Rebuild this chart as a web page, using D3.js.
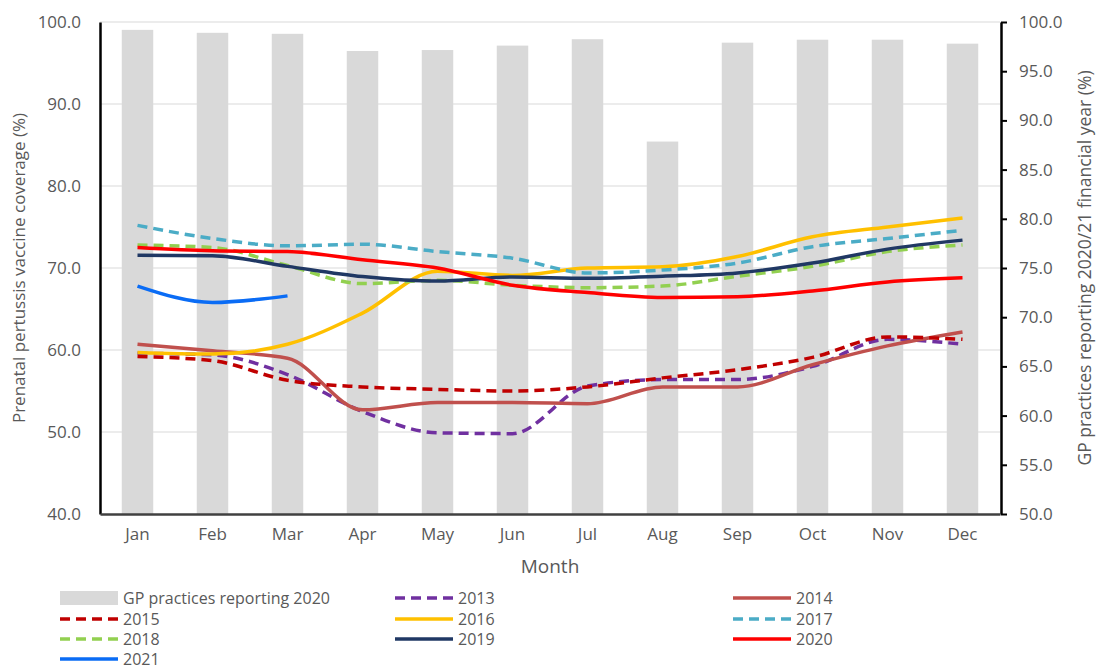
<!DOCTYPE html>
<html>
<head>
<meta charset="utf-8">
<script src="https://cdn.jsdelivr.net/npm/d3@7"></script>
<style>
  body { margin: 0; background: #fff; }
  text { font-family: "Open Sans", "Noto Sans", sans-serif; fill: #595959; }
</style>
</head>
<body>
<svg id="canvas" width="1097" height="668"></svg>
<script>
/********** Data **********/
var months = ["Jan", "Feb", "Mar", "Apr", "May", "Jun", "Jul", "Aug", "Sep", "Oct", "Nov", "Dec"];

// GP practices reporting (right axis)
var gpReporting = [99.2, 98.9, 98.8, 97.05, 97.15, 97.6, 98.25, 87.85, 97.9, 98.2, 98.2, 97.8];

var cov2013 = [59.6, 59.4, 57.0, 52.5, 49.9, 49.8, 55.6, 56.4, 56.4, 58.0, 61.3, 60.7];
var cov2014 = [60.7, 59.9, 59.0, 52.7, 53.6, 53.6, 53.45, 55.5, 55.5, 58.2, 60.5, 62.2];
var cov2015 = [59.2, 58.7, 56.3, 55.5, 55.2, 55.0, 55.5, 56.6, 57.6, 59.1, 61.6, 61.3];
var cov2016 = [59.7, 59.5, 60.7, 64.5, 69.6, 69.1, 70.0, 70.15, 71.4, 73.8, 75.0, 76.1];
var cov2017 = [75.2, 73.6, 72.7, 72.9, 72.0, 71.2, 69.4, 69.75, 70.6, 72.6, 73.6, 74.6];
var cov2018 = [72.8, 72.5, 70.3, 68.1, 68.5, 67.9, 67.6, 67.8, 69.0, 70.2, 72.0, 72.8];
var cov2019 = [71.55, 71.5, 70.2, 68.95, 68.4, 68.9, 68.75, 69.0, 69.4, 70.6, 72.3, 73.4];
var cov2020 = [72.5, 72.1, 72.0, 71.0, 70.0, 67.9, 67.0, 66.4, 66.5, 67.2, 68.3, 68.8];
var cov2021 = [67.8, 65.8, 66.6];

var series = [
  { name: "2013", values: cov2013, color: "#7030A0", dash: true },
  { name: "2014", values: cov2014, color: "#C0504D", dash: false },
  { name: "2015", values: cov2015, color: "#C00000", dash: true },
  { name: "2016", values: cov2016, color: "#FFC000", dash: false },
  { name: "2017", values: cov2017, color: "#4BACC6", dash: true },
  { name: "2018", values: cov2018, color: "#92D050", dash: true },
  { name: "2019", values: cov2019, color: "#203864", dash: false },
  { name: "2020", values: cov2020, color: "#FF0000", dash: false },
  { name: "2021", values: cov2021, color: "#0A6CF5", dash: false }
];

var leftTicks = [40, 50, 60, 70, 80, 90, 100];
var rightTicks = [50, 55, 60, 65, 70, 75, 80, 85, 90, 95, 100];

/********** Setup **********/
var svg = d3.select("#canvas");
var plotL = 100, plotR = 1000, plotT = 22, plotB = 514;

var x = d3.scaleBand().domain(months).range([plotL, plotR]).padding(0);
var yL = d3.scaleLinear().domain([40, 100]).range([plotB, plotT]);
var yR = d3.scaleLinear().domain([50, 100]).range([plotB, plotT]);
var fmt = d3.format(".1f");

/********** Gridlines **********/
svg.append("g")
  .selectAll("line")
  .data(leftTicks.slice(1))
  .enter()
  .append("line")
  .attr("x1", plotL).attr("x2", plotR)
  .attr("y1", function(d) { return yL(d); })
  .attr("y2", function(d) { return yL(d); })
  .attr("stroke", "#D9D9D9")
  .attr("stroke-width", 1.2);

/********** Bars **********/
var barW = x.bandwidth() * 0.42;
svg.append("g")
  .selectAll("rect")
  .data(gpReporting)
  .enter()
  .append("rect")
  .attr("x", function(d, i) { return x(months[i]) + x.bandwidth() / 2 - barW / 2; })
  .attr("width", barW)
  .attr("y", function(d) { return yR(d); })
  .attr("height", function(d) { return plotB - yR(d); })
  .attr("fill", "#D9D9D9");

/********** Lines **********/
var line = d3.line()
  .x(function(d, i) { return x(months[i]) + x.bandwidth() / 2; })
  .y(function(d) { return yL(d); })
  .curve(d3.curveMonotoneX);

svg.append("g")
  .selectAll("path")
  .data(series)
  .enter()
  .append("path")
  .attr("d", function(d) { return line(d.values); })
  .attr("fill", "none")
  .attr("stroke", function(d) { return d.color; })
  .attr("stroke-width", 3.5)
  .attr("stroke-dasharray", function(d) { return d.dash ? "10,6" : null; });

/********** Axes **********/
var axL = svg.append("g")
  .attr("transform", "translate(" + plotL + ",0)")
  .call(d3.axisLeft(yL).tickValues(leftTicks).tickFormat(fmt).tickSize(0).tickPadding(19));
axL.select(".domain").attr("stroke", "#000").attr("stroke-width", 2.5);
axL.selectAll("text").style("font-size", "17px").style("fill", "#595959");

var axR = svg.append("g")
  .attr("transform", "translate(" + (plotR + 1) + ",0)")
  .call(d3.axisRight(yR).tickValues(rightTicks).tickFormat(fmt).tickSize(6).tickSizeOuter(0).tickPadding(12));
axR.select(".domain").attr("stroke", "#000").attr("stroke-width", 2.5);
axR.selectAll(".tick line").attr("stroke", "#000").attr("stroke-width", 2);
axR.selectAll("text").style("font-size", "17px").style("fill", "#595959");

var axB = svg.append("g")
  .attr("transform", "translate(0," + plotB + ")")
  .call(d3.axisBottom(x).tickSize(0).tickSizeOuter(0).tickPadding(14));
axB.select(".domain").attr("stroke", "#404040").attr("stroke-width", 2.5);
axB.selectAll("text").style("font-size", "17px").style("fill", "#595959");

/********** Axis titles **********/
svg.append("text")
  .attr("x", (plotL + plotR) / 2).attr("y", 573)
  .attr("text-anchor", "middle")
  .style("font-size", "19px")
  .text("Month");

svg.append("text")
  .attr("transform", "translate(25," + ((plotT + plotB) / 2) + ") rotate(-90)")
  .attr("text-anchor", "middle")
  .style("font-size", "17px")
  .text("Prenatal pertussis vaccine coverage (%)");

svg.append("text")
  .attr("transform", "translate(1091," + ((plotT + plotB) / 2) + ") rotate(-90)")
  .attr("text-anchor", "middle")
  .style("font-size", "17.5px")
  .text("GP practices reporting 2020/21 financial year (%)");

/********** Legend **********/
var legendItems = [{ name: "GP practices reporting 2020", bar: true }].concat(series);
var colX = [60, 395, 733];
var rowY = [598, 619, 639, 659];

var leg = svg.append("g")
  .selectAll("g")
  .data(legendItems)
  .enter()
  .append("g")
  .attr("transform", function(d, i) {
    return "translate(" + colX[i % 3] + "," + rowY[Math.floor(i / 3)] + ")";
  });

leg.filter(function(d) { return d.bar; })
  .append("rect")
  .attr("x", 0).attr("y", -7).attr("width", 58).attr("height", 14)
  .attr("fill", "#D9D9D9");

leg.filter(function(d) { return !d.bar; })
  .append("line")
  .attr("x1", 0).attr("x2", 58).attr("y1", 0).attr("y2", 0)
  .attr("stroke", function(d) { return d.color; })
  .attr("stroke-width", 3.5)
  .attr("stroke-dasharray", function(d) { return d.dash ? "10,6" : null; });

leg.append("text")
  .attr("x", 63)
  .attr("y", 5.5)
  .style("font-size", "16px")
  .text(function(d) { return d.name; });
</script>
</body>
</html>
